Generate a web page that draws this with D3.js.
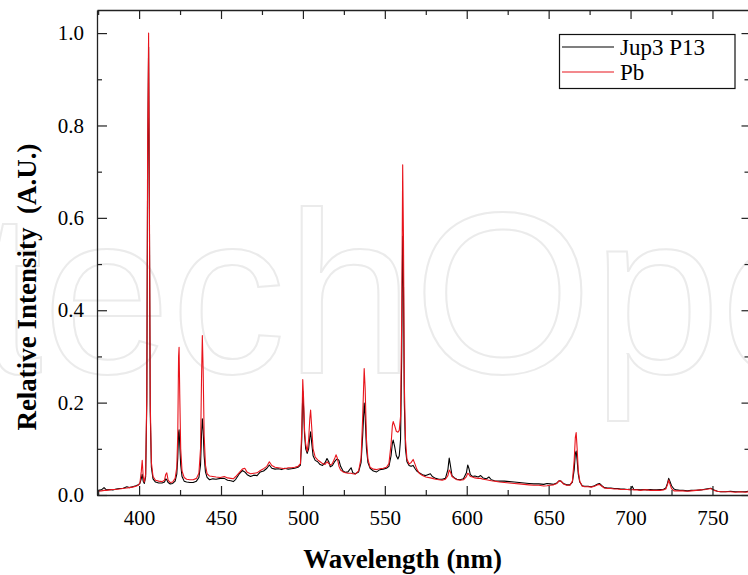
<!DOCTYPE html>
<html>
<head>
<meta charset="utf-8">
<script src="https://cdn.jsdelivr.net/npm/d3@7"></script>
<style>
  html, body { margin: 0; padding: 0; background: #fff; }
  svg { display: block; }
</style>
</head>
<body>
<svg id="chart" width="748" height="575"></svg>
<script>
// ---- Data ----
const wavelengths = [
  375, 377, 378.6, 380, 382, 384, 386, 388, 390, 392.5, 394, 396, 398, 399.5,
  400.5, 401.3, 401.9, 402.5, 403.2, 404.0, 404.7, 405.2, 405.8, 406.3, 406.8, 407.5, 408.5,
  410, 412, 414, 415.5, 416.3, 416.9, 417.7, 419, 420.5, 422, 423, 423.6, 424.1, 424.4, 424.8,
  425.4, 426.2, 427.5, 429, 431, 433, 435, 436.5, 437.5, 438.1, 438.6, 439.1, 439.7, 440.5,
  441.5, 443, 445, 447, 449.5, 452, 454, 456, 457.5, 459, 461, 463, 464.5, 466, 468, 470,
  472, 474, 476, 478, 479.5, 481, 483, 485, 487, 489, 491, 493, 495, 497, 498.5, 499.3,
  499.9, 500.4, 501, 501.7, 502.6, 503.5, 504.2, 504.7, 505.3, 506.2, 507.5, 509, 510.5,
  512, 513.5, 514.7, 515.8, 516.7, 518, 519.5, 520.2, 521, 522, 523, 524.5, 526, 527.5,
  529.4, 530.5, 532, 534, 535.5, 536.5, 537.4, 538, 538.8, 539.7, 541, 543, 545, 547, 549,
  551, 552.5, 553.8, 554.6, 555.1, 556, 557, 558, 558.8, 559.6, 560.3, 560.9, 561.4, 561.9,
  562.6, 563.5, 564.8, 566, 567.3, 568.3, 569.5, 571, 573, 575, 577.8, 579, 581, 583, 585,
  587, 588.5, 589.3, 590, 591, 592.5, 594, 596, 598, 599.8, 600.6, 601.3, 602.2, 603.5, 605,
  607, 608.5, 610, 612, 613.5, 615, 617, 620, 623, 626, 629, 632, 635, 638, 641, 644, 647,
  649, 651, 653, 655, 656.5, 657.5, 659, 661, 663, 664.5, 665.6, 666.3, 666.8, 667.4, 668.1,
  669, 670.5, 672, 674, 676, 678, 680, 681, 682.5, 684, 686, 688, 690, 692, 694, 696, 698,
  700, 701, 702, 704, 706, 708, 710, 712, 714, 716, 718, 720, 721.5, 722.5, 723.3, 724, 725,
  726.5, 728, 730, 732, 734.7, 737, 740, 743, 746, 749, 751, 753, 755, 758, 761, 764, 767,
  770, 772
];
const jup3P13 = [
  0.010, 0.011, 0.016, 0.011, 0.012, 0.011, 0.013, 0.014, 0.014, 0.018, 0.016, 0.018, 0.020, 0.022,
  0.025, 0.035, 0.045, 0.030, 0.025, 0.040, 0.20, 0.70, 0.97, 0.60, 0.18, 0.06, 0.035,
  0.028, 0.026, 0.026, 0.028, 0.035, 0.033, 0.027, 0.024, 0.025, 0.030, 0.045, 0.08, 0.135, 0.141, 0.11,
  0.065, 0.040, 0.030, 0.028, 0.027, 0.027, 0.030, 0.038, 0.065, 0.13, 0.165, 0.14, 0.085, 0.05,
  0.038, 0.033, 0.035, 0.034, 0.036, 0.036, 0.032, 0.031, 0.029, 0.034, 0.045, 0.053, 0.050, 0.044, 0.040, 0.043,
  0.042, 0.050, 0.052, 0.058, 0.065, 0.058, 0.056, 0.057, 0.055, 0.058, 0.056, 0.057, 0.058, 0.060, 0.065, 0.12,
  0.225, 0.19, 0.13, 0.10, 0.090, 0.100, 0.125, 0.137, 0.115, 0.085, 0.075, 0.072, 0.066,
  0.064, 0.070, 0.079, 0.072, 0.061, 0.064, 0.073, 0.076, 0.078, 0.075, 0.062, 0.052, 0.049, 0.050,
  0.059, 0.048, 0.046, 0.050, 0.070, 0.13, 0.199, 0.17, 0.10, 0.070, 0.058, 0.052, 0.050, 0.055, 0.056,
  0.058, 0.062, 0.085, 0.112, 0.119, 0.105, 0.085, 0.078, 0.085, 0.12, 0.30, 0.56, 0.45, 0.20,
  0.10, 0.072, 0.064, 0.062, 0.064, 0.058, 0.052, 0.048, 0.044, 0.042, 0.046, 0.040, 0.036, 0.034, 0.034,
  0.036, 0.055, 0.080, 0.065, 0.042, 0.037, 0.034, 0.033, 0.035, 0.048, 0.065, 0.058, 0.044, 0.040, 0.041,
  0.039, 0.042, 0.037, 0.035, 0.039, 0.033, 0.031, 0.030, 0.030, 0.029, 0.028, 0.027, 0.026, 0.025, 0.024, 0.024, 0.023,
  0.025, 0.024, 0.023, 0.026, 0.031, 0.030, 0.025, 0.022, 0.022, 0.028, 0.055, 0.090, 0.095, 0.075, 0.045,
  0.028, 0.020, 0.019, 0.019, 0.018, 0.020, 0.024, 0.025, 0.020, 0.016, 0.015, 0.015, 0.014, 0.014, 0.013, 0.013, 0.012,
  0.013, 0.019, 0.012, 0.012, 0.011, 0.012, 0.011, 0.012, 0.011, 0.011, 0.012, 0.012, 0.015, 0.025, 0.036, 0.030, 0.020,
  0.013, 0.011, 0.010, 0.010, 0.009, 0.010, 0.010, 0.011, 0.013, 0.0145, 0.011, 0.008, 0.007, 0.007, 0.008, 0.007, 0.007,
  0.007, 0.008
];
const pb = [
  0.008, 0.009, 0.010, 0.010, 0.011, 0.012, 0.012, 0.013, 0.014, 0.015, 0.016, 0.017, 0.019, 0.021,
  0.026, 0.050, 0.075, 0.040, 0.028, 0.045, 0.22, 0.75, 1.00, 0.62, 0.20, 0.07, 0.04,
  0.032, 0.030, 0.029, 0.032, 0.045, 0.048, 0.032, 0.027, 0.028, 0.036, 0.06, 0.13, 0.30, 0.32, 0.22,
  0.10, 0.052, 0.038, 0.034, 0.033, 0.033, 0.036, 0.047, 0.10, 0.25, 0.345, 0.27, 0.13, 0.065,
  0.046, 0.041, 0.040, 0.039, 0.038, 0.040, 0.037, 0.036, 0.035, 0.040, 0.048, 0.056, 0.058, 0.049, 0.046, 0.047,
  0.048, 0.053, 0.057, 0.062, 0.072, 0.064, 0.060, 0.059, 0.058, 0.057, 0.059, 0.059, 0.060, 0.062, 0.068, 0.14,
  0.25, 0.21, 0.14, 0.11, 0.094, 0.12, 0.165, 0.184, 0.15, 0.10, 0.082, 0.076, 0.072,
  0.068, 0.066, 0.072, 0.068, 0.065, 0.068, 0.080, 0.087, 0.080, 0.062, 0.054, 0.050, 0.048, 0.047,
  0.047, 0.046, 0.045, 0.052, 0.08, 0.17, 0.274, 0.23, 0.12, 0.077, 0.060, 0.056, 0.055, 0.057, 0.058,
  0.060, 0.068, 0.11, 0.150, 0.159, 0.150, 0.138, 0.136, 0.140, 0.17, 0.38, 0.715, 0.55, 0.24,
  0.12, 0.078, 0.067, 0.070, 0.077, 0.068, 0.056, 0.047, 0.042, 0.039, 0.037, 0.036, 0.034, 0.033, 0.032,
  0.034, 0.042, 0.054, 0.050, 0.040, 0.036, 0.033, 0.032, 0.033, 0.040, 0.047, 0.045, 0.040, 0.039, 0.037,
  0.036, 0.036, 0.034, 0.033, 0.032, 0.031, 0.030, 0.028, 0.027, 0.026, 0.025, 0.024, 0.023, 0.022, 0.021, 0.021, 0.0195,
  0.020, 0.021, 0.022, 0.025, 0.031, 0.030, 0.024, 0.021, 0.021, 0.030, 0.075, 0.125, 0.135, 0.10, 0.052,
  0.030, 0.019, 0.018, 0.018, 0.017, 0.019, 0.022, 0.023, 0.019, 0.015, 0.014, 0.014, 0.013, 0.013, 0.012, 0.012, 0.012,
  0.011, 0.012, 0.011, 0.011, 0.010, 0.011, 0.011, 0.010, 0.010, 0.010, 0.010, 0.011, 0.013, 0.022, 0.0325, 0.024, 0.014,
  0.009, 0.009, 0.009, 0.009, 0.008, 0.009, 0.010, 0.011, 0.012, 0.014, 0.010, 0.008, 0.007, 0.007, 0.007, 0.006, 0.007,
  0.006, 0.007
];
const seriesNames = ["Jup3 P13", "Pb"];
const xMajorTicks = [400, 450, 500, 550, 600, 650, 700, 750];
const xMinorTicks = [375, 425, 475, 525, 575, 625, 675, 725];
const yMajorTicks = [0.0, 0.2, 0.4, 0.6, 0.8, 1.0];
const yMinorTicks = [0.1, 0.3, 0.5, 0.7, 0.9];
const xTitle = "Wavelength (nm)";
const yTitle = "Relative Intensity  (A.U.)";
const watermarkText = "IntechOpen";

// ---- Layout ----
const SERIF = "'Liberation Serif', 'Times New Roman', Times, serif";
const L = 97, R = 748.5, T = 10, B = 495;
const svg = d3.select("#chart");
const x = d3.scaleLinear().domain([374.3, 772]).range([L, R]);
const y = d3.scaleLinear().domain([0, 1.05]).range([B, T]);

// watermark
svg.append("text")
  .attr("x", -213).attr("y", 373)
  .attr("font-family", "'Liberation Sans', Arial, sans-serif")
  .attr("font-size", 230)
  .attr("fill", "none")
  .attr("stroke", "#ebebeb")
  .attr("stroke-width", 2)
  .text(watermarkText);

// clip
svg.append("clipPath").attr("id", "clip")
  .append("rect").attr("x", L).attr("y", T).attr("width", R - L).attr("height", B - T);

const line = d3.line().x(d => x(d[0])).y(d => y(d[1]));
const dataBlack = wavelengths.map((w, i) => [w, jup3P13[i]]);
const dataRed = wavelengths.map((w, i) => [w, pb[i]]);

const g = svg.append("g").attr("clip-path", "url(#clip)");
g.append("path").datum(dataBlack).attr("d", line)
  .attr("fill", "none").attr("stroke", "#000").attr("stroke-width", 1.1).attr("stroke-linejoin", "round");
g.append("path").datum(dataRed).attr("d", line)
  .attr("fill", "none").attr("stroke", "#e8141c").attr("stroke-width", 1.1).attr("stroke-linejoin", "round");

// axes
const axisColor = "#222";
function styleAxis(sel) {
  sel.attr("font-family", SERIF);
  sel.select(".domain").attr("stroke", axisColor).attr("stroke-width", 1.3);
  sel.selectAll(".tick line").attr("stroke", axisColor).attr("stroke-width", 1.2);
  sel.selectAll(".tick text").attr("fill", "#000").attr("font-size", 21).attr("font-family", SERIF);
}
function minor(sel) {
  sel.select(".domain").remove();
  sel.selectAll(".tick line").attr("stroke", axisColor).attr("stroke-width", 1.2);
}
// bottom
const gb = svg.append("g").attr("transform", `translate(0,${B})`)
  .call(d3.axisBottom(x).tickValues(xMajorTicks).tickSize(-9).tickSizeOuter(0).tickPadding(15).tickFormat(d3.format("d")));
styleAxis(gb);
gb.selectAll(".tick text").attr("y", 15);
svg.append("g").attr("transform", `translate(0,${B})`)
  .call(d3.axisBottom(x).tickValues(xMinorTicks).tickSize(-5).tickSizeOuter(0).tickFormat(""))
  .call(minor);
// top
const gt = svg.append("g").attr("transform", `translate(0,${T})`)
  .call(d3.axisTop(x).tickValues(xMajorTicks).tickSize(-9).tickSizeOuter(0).tickFormat(""));
styleAxis(gt);
svg.append("g").attr("transform", `translate(0,${T})`)
  .call(d3.axisTop(x).tickValues(xMinorTicks).tickSize(-5).tickSizeOuter(0).tickFormat(""))
  .call(minor);
// left
const gl = svg.append("g").attr("transform", `translate(${L},0)`)
  .call(d3.axisLeft(y).tickValues(yMajorTicks).tickSize(-10).tickSizeOuter(0).tickPadding(13).tickFormat(d3.format(".1f")));
styleAxis(gl);
gl.selectAll(".tick text").attr("x", -13);
svg.append("g").attr("transform", `translate(${L},0)`)
  .call(d3.axisLeft(y).tickValues(yMinorTicks).tickSize(-5).tickSizeOuter(0).tickFormat(""))
  .call(minor);
// right
const gr = svg.append("g").attr("transform", `translate(${R},0)`)
  .call(d3.axisRight(y).tickValues(yMajorTicks).tickSize(-7).tickSizeOuter(0).tickFormat(""));
styleAxis(gr);
svg.append("g").attr("transform", `translate(${R},0)`)
  .call(d3.axisRight(y).tickValues(yMinorTicks).tickSize(-4).tickSizeOuter(0).tickFormat(""))
  .call(minor);

// titles
svg.append("text").attr("x", 402.5).attr("y", 568)
  .attr("text-anchor", "middle")
  .attr("font-family", SERIF)
  .attr("font-weight", "bold").attr("font-size", 27)
  .text(xTitle);
svg.append("text")
  .attr("transform", "translate(36,287) rotate(-90)")
  .attr("text-anchor", "middle")
  .attr("font-family", SERIF)
  .attr("font-weight", "bold").attr("font-size", 27)
  .style("white-space", "pre")
  .text(yTitle);

// legend
const lg = svg.append("g");
lg.append("rect").attr("x", 559.5).attr("y", 34.5).attr("width", 175.5).attr("height", 54)
  .attr("fill", "#fff").attr("stroke", "#111").attr("stroke-width", 1.2);
const legendColors = ["#000", "#e8141c"];
seriesNames.forEach((name, i) => {
  const yy = 47 + i * 25;
  lg.append("line").attr("x1", 562).attr("x2", 614).attr("y1", yy).attr("y2", yy)
    .attr("stroke", legendColors[i]).attr("stroke-width", 1.1);
  lg.append("text").attr("x", 620).attr("y", yy + 8)
    .attr("font-family", SERIF)
    .attr("font-size", 23).attr("fill", "#000")
    .text(name);
});
</script>
</body>
</html>
